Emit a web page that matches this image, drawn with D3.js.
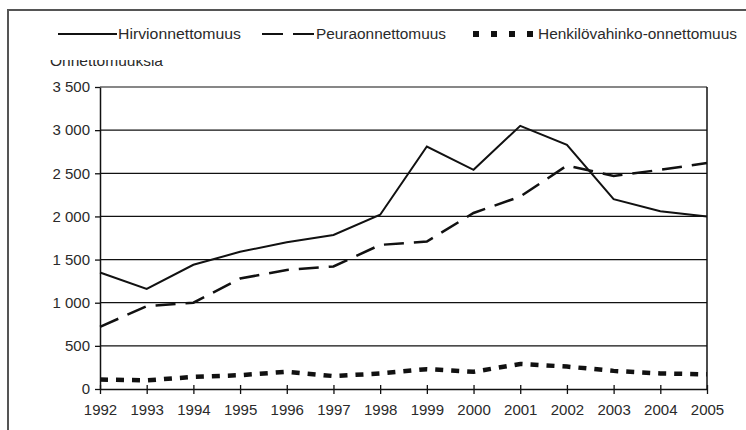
<!DOCTYPE html>
<html>
<head>
<meta charset="utf-8">
<script src="https://cdn.jsdelivr.net/npm/d3@7"></script>
<style>
  html, body { margin: 0; background: #fff; overflow: hidden; }
  svg { display: block; overflow: hidden; }
  svg text { font-family: "Liberation Sans", Arial, sans-serif; fill: #2a2a2a; }
</style>
</head>
<body>
<svg id="chart"></svg>
<script>
// Data
const years = [1992, 1993, 1994, 1995, 1996, 1997, 1998, 1999, 2000, 2001, 2002, 2003, 2004, 2005];
const hirvi = [1350, 1160, 1440, 1590, 1700, 1785, 2020, 2810, 2540, 3050, 2830, 2200, 2060, 2000];
const peura = [720, 960, 1000, 1280, 1380, 1420, 1670, 1710, 2040, 2230, 2590, 2470, 2540, 2620];
const henkilo = [110, 100, 140, 160, 200, 150, 180, 230, 200, 290, 260, 210, 180, 170];
const yTicks = [0, 500, 1000, 1500, 2000, 2500, 3000, 3500];
const seriesNames = ['Hirvionnettomuus', 'Peuraonnettomuus', 'Henkilövahinko-onnettomuus'];
const yTitle = 'Onnettomuuksia';

//Canvas
let width = 746;
let height = 430;
let plot = {left: 100, right: 707, top: 87, bottom: 389};

let svg = d3.select('#chart')
    .attr('width', width)
    .attr('height', height);

// outer frame: only top and left edges are inside the picture
svg.append('path')
    .attr('d', 'M8,' + height + 'V10H' + width)
    .attr('fill', 'none')
    .attr('stroke', '#555')
    .attr('stroke-width', 2);

let xScale = d3.scaleLinear()
    .domain([years[0], years[years.length - 1]])
    .range([plot.left, plot.right]);
let yScale = d3.scaleLinear()
    .domain([0, 3500])
    .range([plot.bottom, plot.top]);

const fi = d3.formatLocale({decimal: ',', thousands: '\u00a0', grouping: [3], currency: ['', '']});
const fmt = fi.format(',');

// gridlines
svg.append('g')
    .selectAll('line')
    .data(yTicks.filter(d => d > 0))
    .enter()
    .append('line')
    .attr('x1', plot.left)
    .attr('x2', plot.right)
    .attr('y1', d => yScale(d))
    .attr('y2', d => yScale(d))
    .attr('stroke', '#111')
    .attr('stroke-width', 1.2);

// right border of plot
svg.append('line')
    .attr('x1', plot.right).attr('x2', plot.right)
    .attr('y1', plot.top).attr('y2', plot.bottom)
    .attr('stroke', '#111').attr('stroke-width', 1.5);

let yAxis = svg.append('g')
    .attr('transform', 'translate(' + plot.left + ',0)')
    .call(d3.axisLeft(yScale).tickValues(yTicks).tickSize(5).tickSizeOuter(0).tickPadding(5).tickFormat(fmt));

let xAxis = svg.append('g')
    .attr('transform', 'translate(0,' + plot.bottom + ')')
    .call(d3.axisBottom(xScale).tickValues(years).tickSize(5).tickSizeOuter(0).tickPadding(10).tickFormat(d3.format('d')));

xAxis.selectAll('.tick line').attr('y1', -4);

[yAxis, xAxis].forEach(ax => {
    ax.select('.domain').attr('stroke', '#111').attr('stroke-width', 1.5);
    ax.selectAll('.tick line').attr('stroke', '#111').attr('stroke-width', 1.3);
    ax.selectAll('text')
        .attr('fill', '#2a2a2a')
        .style('font-size', '15px')
        .style('font-family', '"Liberation Sans", Arial, sans-serif');
});

// y title, top half cut off as in the source
svg.append('clipPath').attr('id', 'titleClip')
    .append('rect').attr('x', 0).attr('y', 60).attr('width', 300).attr('height', 20);
svg.append('text')
    .attr('x', 50)
    .attr('y', 66)
    .attr('clip-path', 'url(#titleClip)')
    .attr('textLength', 113)
    .attr('lengthAdjust', 'spacingAndGlyphs')
    .style('font-size', '15px')
    .text(yTitle);

// lines
let line = d3.line()
    .x((d, i) => xScale(years[i]))
    .y(d => yScale(d));

const styles = [
    {dash: null, w: 2},
    {dash: '20,10', w: 2.5},
    {dash: '8,8', w: 4.5}
];
const legendDash = [null, '21,10', '6,12'];

[hirvi, peura, henkilo].forEach((vals, i) => {
    svg.append('path')
        .datum(vals)
        .attr('d', line)
        .attr('fill', 'none')
        .attr('stroke', '#111')
        .attr('stroke-width', styles[i].w)
        .attr('stroke-dasharray', styles[i].dash);
});

// legend
const legendX = [58, 262, 473];
const legendLen = [59, 53, 64];
const legendTextLen = [123, 130, 199];
let legend = svg.append('g');
seriesNames.forEach((name, i) => {
    legend.append('line')
        .attr('x1', legendX[i])
        .attr('x2', legendX[i] + legendLen[i])
        .attr('y1', 34).attr('y2', 34)
        .attr('stroke', '#111')
        .attr('stroke-width', i === 2 ? 6 : 2)
        .attr('stroke-dasharray', legendDash[i]);
    legend.append('text')
        .attr('x', legendX[i] + legendLen[i] + 1)
        .attr('y', 39)
        .attr('textLength', legendTextLen[i])
        .attr('lengthAdjust', 'spacingAndGlyphs')
        .style('font-size', '14px')
        .text(name);
});
</script>
</body>
</html>
